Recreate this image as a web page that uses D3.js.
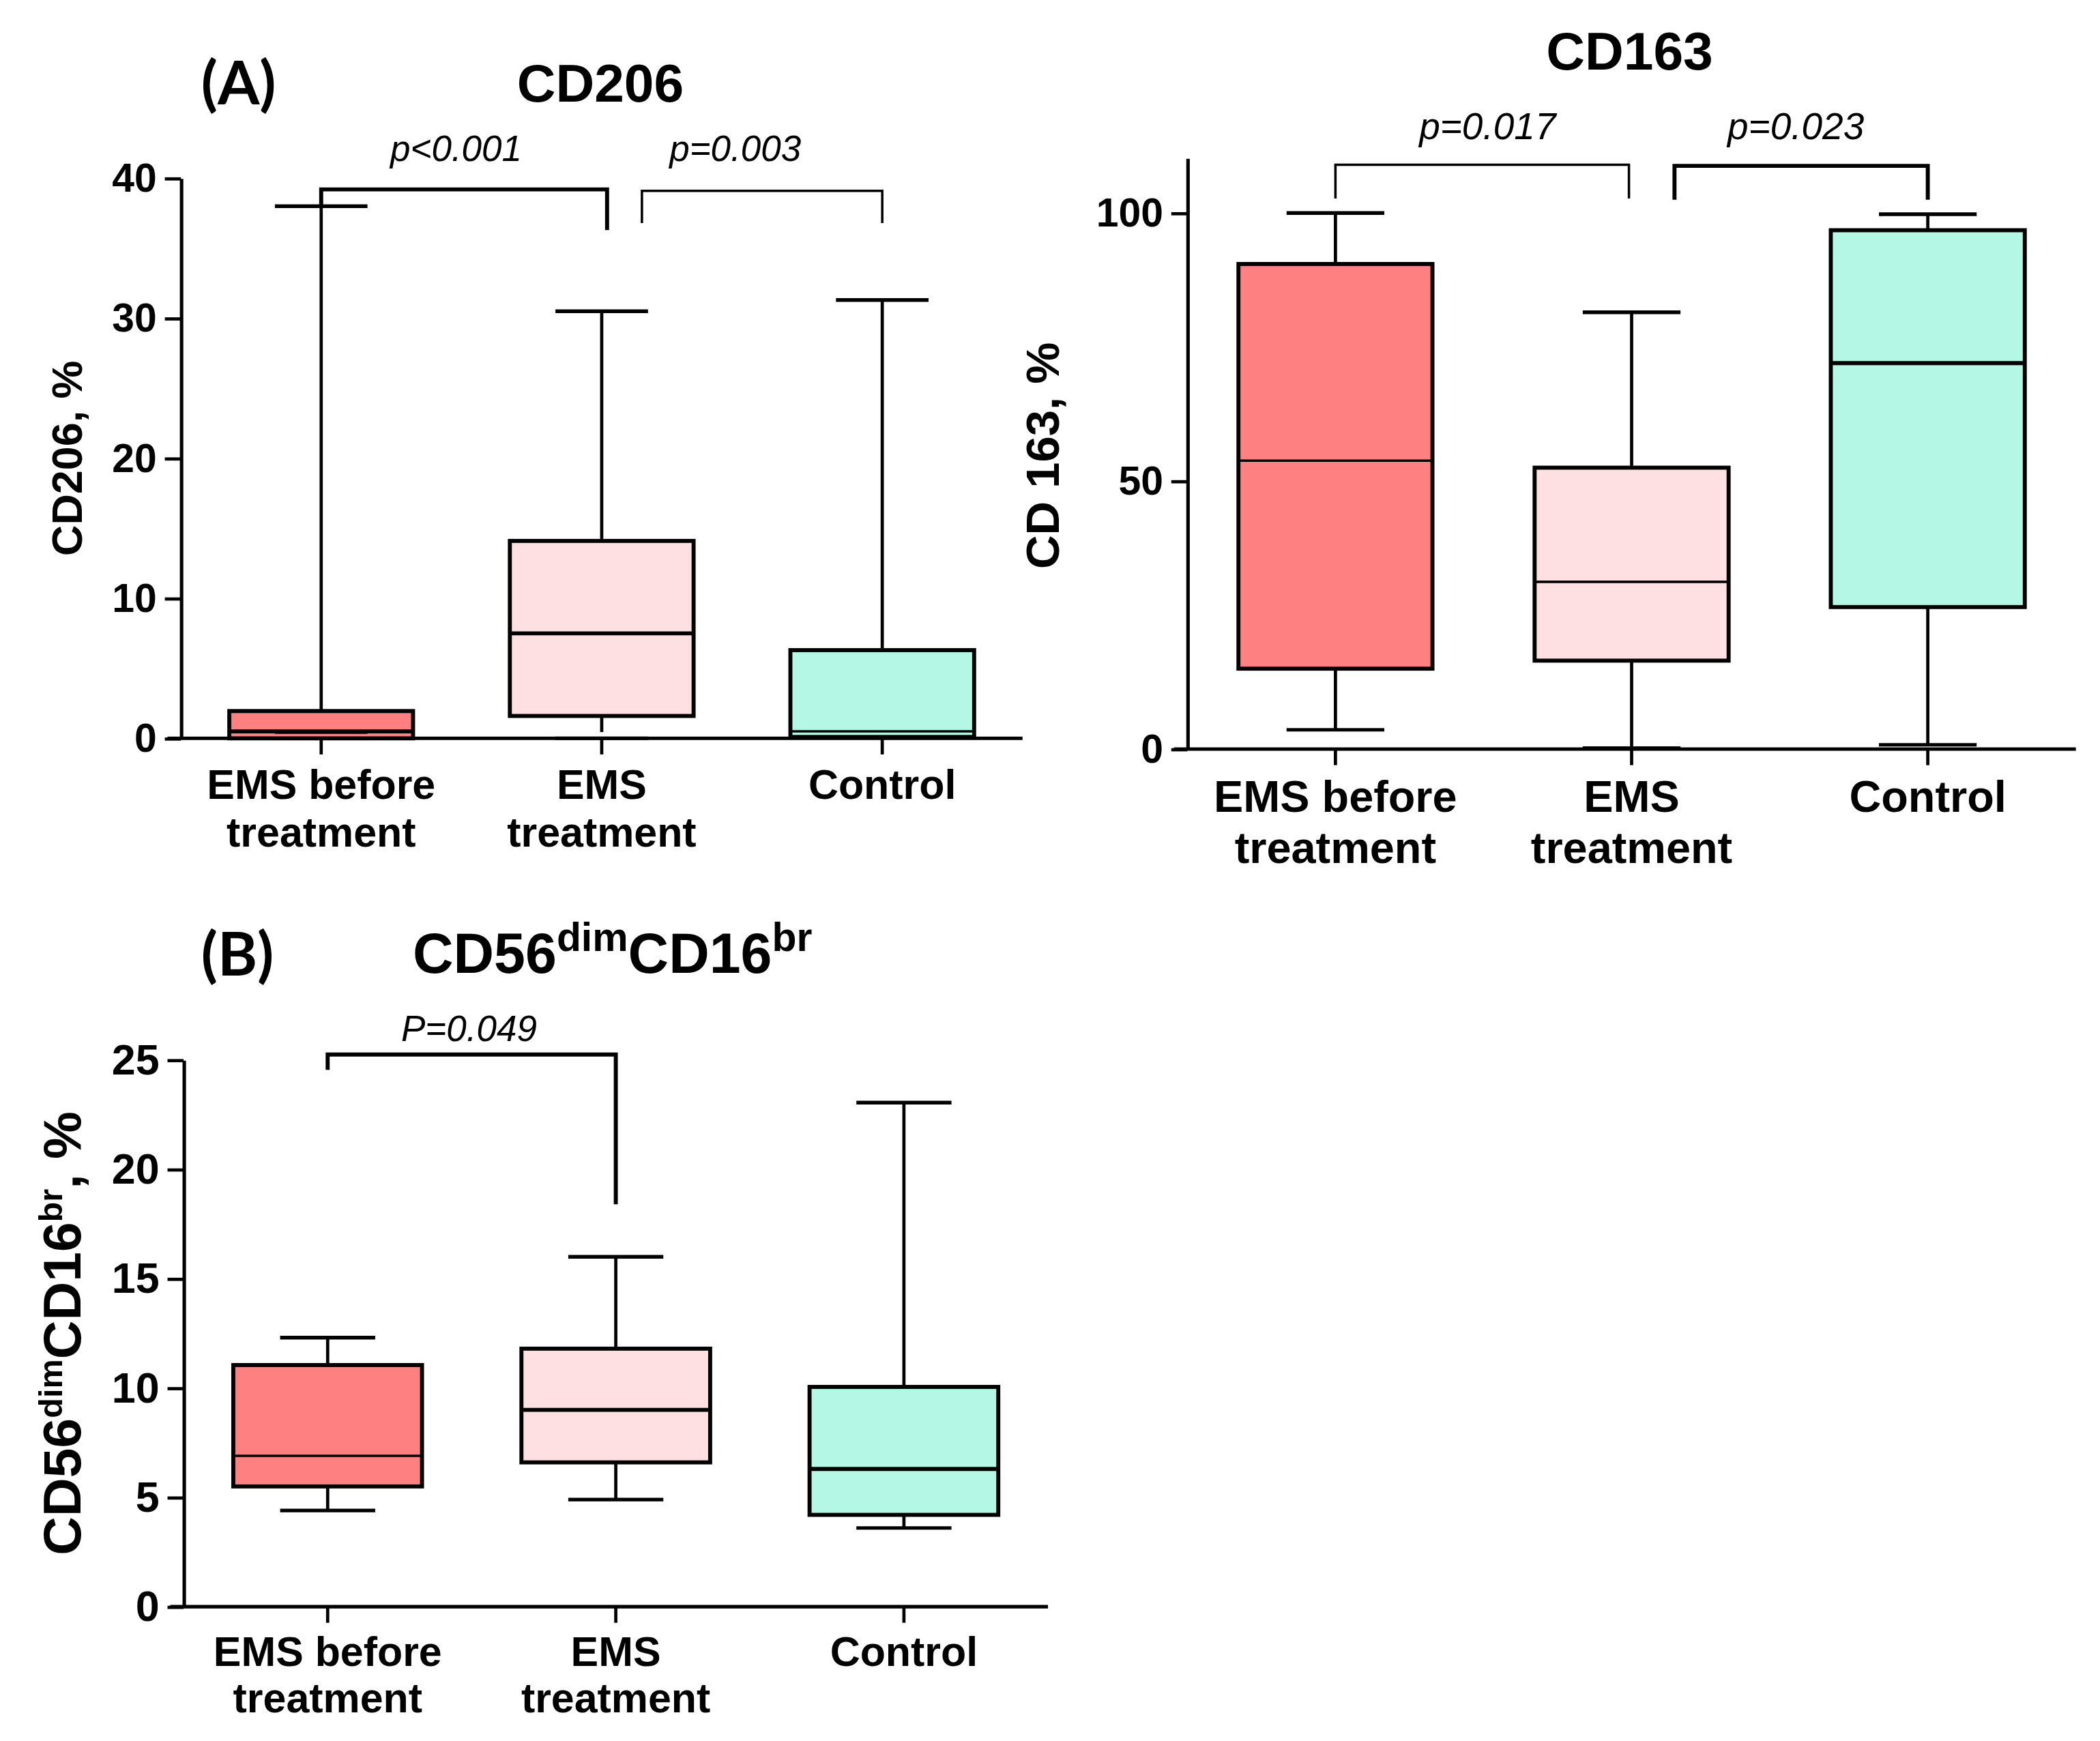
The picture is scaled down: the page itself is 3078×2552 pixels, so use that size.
<!DOCTYPE html>
<html>
<head>
<meta charset="utf-8">
<script src="https://cdn.jsdelivr.net/npm/d3@7"></script>
<style>
  html, body { margin: 0; padding: 0; background: #fff; }
  svg { display: block; }
  text { font-family: "Liberation Sans", Arial, sans-serif; fill: #000; }
  .tick-lbl { font-weight: bold; font-size: 30px; }
  .cat-lbl { font-weight: bold; }
  .pval { font-style: italic; font-size: 26px; }
  .title { font-weight: bold; font-size: 40px; }
  .panel-tag { font-family: Lato, "Liberation Sans", sans-serif; font-weight: bold; font-size: 45px; }
</style>
</head>
<body>
<div id="chart"></div>
<script>
//////////////////////////////////////////////////////////////
//////////////////////////  Data  ////////////////////////////
const categories = ["EMS before treatment", "EMS treatment", "Control"];
const catLines = [["EMS before", "treatment"], ["EMS", "treatment"], ["Control"]];
const boxColors = ["#ff8080", "#ffe0e2", "#b5f7e5"];

// [min, q1, median, q3, max]
const cd206 = [
  [0, 0, 0.5, 1.95, 38.0],
  [0.45, 1.6, 7.5, 14.1, 30.5],
  [0, 0.1, 0.5, 6.3, 31.3]
];
const cd163 = [
  [3.6, 15.0, 53.8, 90.5, 100],
  [0.2, 16.5, 31.2, 52.5, 81.5],
  [0.8, 26.5, 72.0, 96.8, 99.8]
];
const cd56 = [
  [4.4, 5.5, 6.9, 11.05, 12.3],
  [4.9, 6.6, 9.0, 11.8, 16.0],
  [3.6, 4.2, 6.3, 10.05, 23.05]
];

const cd206Ticks = [0, 10, 20, 30, 40];
const cd163Ticks = [0, 50, 100];
const cd56Ticks = [0, 5, 10, 15, 20, 25];

// brackets: from/to category, bar height, leg ends (left, right), label
const cd206Pvals = [
  { from: 0, to: 1, y: 39.2, yl: 38.0, yr: 36.3, label: "p<0.001" },
  { from: 1, to: 2, y: 39.1, yl: 36.8, yr: 36.8, label: "p=0.003" }
];
const cd163Pvals = [
  { from: 0, to: 1, y: 109.0, yl: 102.7, yr: 102.7, label: "p=0.017" },
  { from: 1, to: 2, y: 108.8, yl: 102.5, yr: 102.5, label: "p=0.023" }
];
const cd56Pvals = [
  { from: 0, to: 1, y: 25.25, yl: 24.55, yr: 18.4, label: "P=0.049" }
];

//////////////////////////////////////////////////////////////
//////////////////////////  Init  ////////////////////////////
const W = 3078, H = 2552;
const VW = 1567, VH = 1567 * H / W; // drawing units
const svg = d3.select("#chart").append("svg")
  .attr("width", W).attr("height", H)
  .attr("viewBox", `0 0 ${VW} ${VH}`);

const drawPanel = (cfg) => {
  const g = svg.append("g");
  const x = d3.scaleBand().domain(categories).range([cfg.x0, cfg.x1]);
  const y = d3.scaleLinear().domain(cfg.domain).range([cfg.y0, cfg.y1]);
  const cx = (i) => x(categories[i]) + x.bandwidth() / 2;
  const bw = x.bandwidth() * 0.655;
  const cw = x.bandwidth() * 0.33;

  // y axis
  const yAxis = g.append("g")
    .attr("transform", `translate(${cfg.x0},0)`)
    .call(d3.axisLeft(y).tickValues(cfg.ticks).tickSize(12).tickPadding(6).tickSizeOuter(0));
  yAxis.select(".domain").attr("stroke-width", 2.6);
  yAxis.selectAll(".tick line").attr("stroke-width", 2.4);
  yAxis.selectAll(".tick text").attr("class", "tick-lbl").style("font-size", cfg.tickSize + "px")
    .attr("fill", "#000").attr("font-family", null);

  // x axis
  const xAxis = g.append("g")
    .attr("transform", `translate(0,${cfg.y0})`)
    .call(d3.axisBottom(x).tickSize(12).tickSizeOuter(0).tickFormat(""));
  xAxis.select(".domain").attr("stroke-width", 2.6).attr("d", `M${cfg.x0 - 10},0H${cfg.x1}`);
  xAxis.selectAll(".tick line").attr("stroke-width", 2.4);

  // category labels
  categories.forEach((c, i) => {
    const t = g.append("text").attr("class", "cat-lbl")
      .attr("text-anchor", "middle")
      .style("font-size", cfg.catSize + "px");
    catLines[i].forEach((ln, j) => {
      t.append("tspan").attr("x", cx(i)).attr("y", cfg.catY + j * cfg.catGap).text(ln);
    });
  });

  // boxes
  const boxes = g.selectAll(".box").data(cfg.data).join("g").attr("class", "box");
  boxes.append("line")
    .attr("x1", (d, i) => cx(i)).attr("x2", (d, i) => cx(i))
    .attr("y1", (d) => y(d[3])).attr("y2", (d) => y(d[4]))
    .attr("stroke", "#000").attr("stroke-width", 2.4);
  boxes.append("line")
    .attr("x1", (d, i) => cx(i)).attr("x2", (d, i) => cx(i))
    .attr("y1", (d) => y(d[1])).attr("y2", (d) => y(d[0]))
    .attr("stroke", "#000").attr("stroke-width", 2.4);
  boxes.append("line")
    .attr("x1", (d, i) => cx(i) - cw / 2).attr("x2", (d, i) => cx(i) + cw / 2)
    .attr("y1", (d) => y(d[4])).attr("y2", (d) => y(d[4]))
    .attr("stroke", "#000").attr("stroke-width", 2.8);
  boxes.filter((d) => d[0] !== d[1]).append("line")
    .attr("x1", (d, i) => cx(i) - cw / 2).attr("x2", (d, i) => cx(i) + cw / 2)
    .attr("y1", (d) => y(d[0])).attr("y2", (d) => y(d[0]))
    .attr("stroke", "#000").attr("stroke-width", 2.6);
  boxes.append("rect")
    .attr("x", (d, i) => cx(i) - bw / 2)
    .attr("width", bw)
    .attr("y", (d) => y(d[3]))
    .attr("height", (d) => Math.max(y(d[1]) - y(d[3]), 0))
    .attr("fill", (d, i) => boxColors[i])
    .attr("stroke", "#000").attr("stroke-width", 3);
  boxes.append("line")
    .attr("x1", (d, i) => cx(i) - bw / 2).attr("x2", (d, i) => cx(i) + bw / 2)
    .attr("y1", (d) => y(d[2])).attr("y2", (d) => y(d[2]))
    .attr("stroke", "#000").attr("stroke-width", (d, i) => cfg.medW[i]);

  // significance brackets
  cfg.pvals.forEach((p, k) => {
    const xl = cx(p.from) + cfg.bracketOff[k][0];
    const xr = cx(p.to) + cfg.bracketOff[k][1];
    g.append("path")
      .attr("d", `M${xl},${y(p.yl)}V${y(p.y)}H${xr}V${y(p.yr)}`)
      .attr("fill", "none").attr("stroke", "#000")
      .attr("stroke-width", cfg.bracketW[k]);
    g.append("text").attr("class", "pval")
      .attr("x", (xl + xr) / 2 + cfg.pShift[k]).attr("y", cfg.pY)
      .attr("text-anchor", "middle")
      .style("font-size", cfg.pSize + "px")
      .text(p.label);
  });

  // y label
  const yl = g.append("text")
    .attr("transform", `translate(${cfg.ylX},${cfg.ylY}) rotate(-90)`)
    .attr("text-anchor", "middle")
    .style("font-weight", "bold")
    .style("font-size", cfg.ylSize + "px");
  cfg.ylParts.forEach((pt) => {
    const ts = yl.append("tspan").text(pt.t);
    if (pt.sup) ts.attr("baseline-shift", "super").style("font-size", (cfg.ylSize * 0.62) + "px");
  });
  return g;
};

// Panel A - CD206
drawPanel({
  data: cd206, domain: [0, 40], ticks: cd206Ticks,
  x0: 135, x1: 763, y0: 551, y1: 133,
  tickSize: 30, catSize: 31, catY: 596, catGap: 36,
  medW: [3, 3, 1.8],
  pvals: cd206Pvals, bracketOff: [[0, 4], [30, 0]], bracketW: [3, 1.8],
  pY: 120, pSize: 27, pShift: [-6, -20],
  ylX: 61, ylY: 342, ylSize: 32, ylParts: [{ t: "CD206, %" }]
});

// CD163
drawPanel({
  data: cd163, domain: [0, 110.25], ticks: cd163Ticks,
  x0: 886, x1: 1549, y0: 559, y1: 118,
  tickSize: 30, catSize: 33, catY: 606, catGap: 38,
  medW: [1.8, 1.8, 3],
  pvals: cd163Pvals, bracketOff: [[0, -2], [32, 0]], bracketW: [1.8, 3],
  pY: 104, pSize: 28, pShift: [4, -4],
  ylX: 790, ylY: 340, ylSize: 35, ylParts: [{ t: "CD 163, %" }]
});

// Panel B - CD56dim CD16br
drawPanel({
  data: cd56, domain: [0, 25], ticks: cd56Ticks,
  x0: 137, x1: 782, y0: 1199, y1: 791,
  tickSize: 32, catSize: 31, catY: 1243, catGap: 35,
  medW: [1.8, 3, 3],
  pvals: cd56Pvals, bracketOff: [[0, 0]], bracketW: [3],
  pY: 777, pSize: 27, pShift: [-2],
  ylX: 60, ylY: 995, ylSize: 40,
  ylParts: [{ t: "CD56" }, { t: "dim", sup: true }, { t: "CD16" }, { t: "br", sup: true }, { t: ", %" }]
});

// titles
svg.append("text").attr("class", "panel-tag").attr("x", 150).attr("y", 78).text("(A)");
svg.append("text").attr("class", "title").attr("x", 448).attr("y", 76).attr("text-anchor", "middle").text("CD206");
svg.append("text").attr("class", "title").attr("x", 1216).attr("y", 52).attr("text-anchor", "middle").text("CD163");
svg.append("text").attr("class", "panel-tag").attr("x", 150).attr("y", 728).text("(B)");
const tB = svg.append("text").attr("class", "title").attr("x", 308).attr("y", 726).style("font-size", "42px");
tB.append("tspan").text("CD56");
tB.append("tspan").attr("baseline-shift", "super").style("font-size", "30px").text("dim");
tB.append("tspan").text("CD16");
tB.append("tspan").attr("baseline-shift", "super").style("font-size", "30px").text("br");
</script>
</body>
</html>
